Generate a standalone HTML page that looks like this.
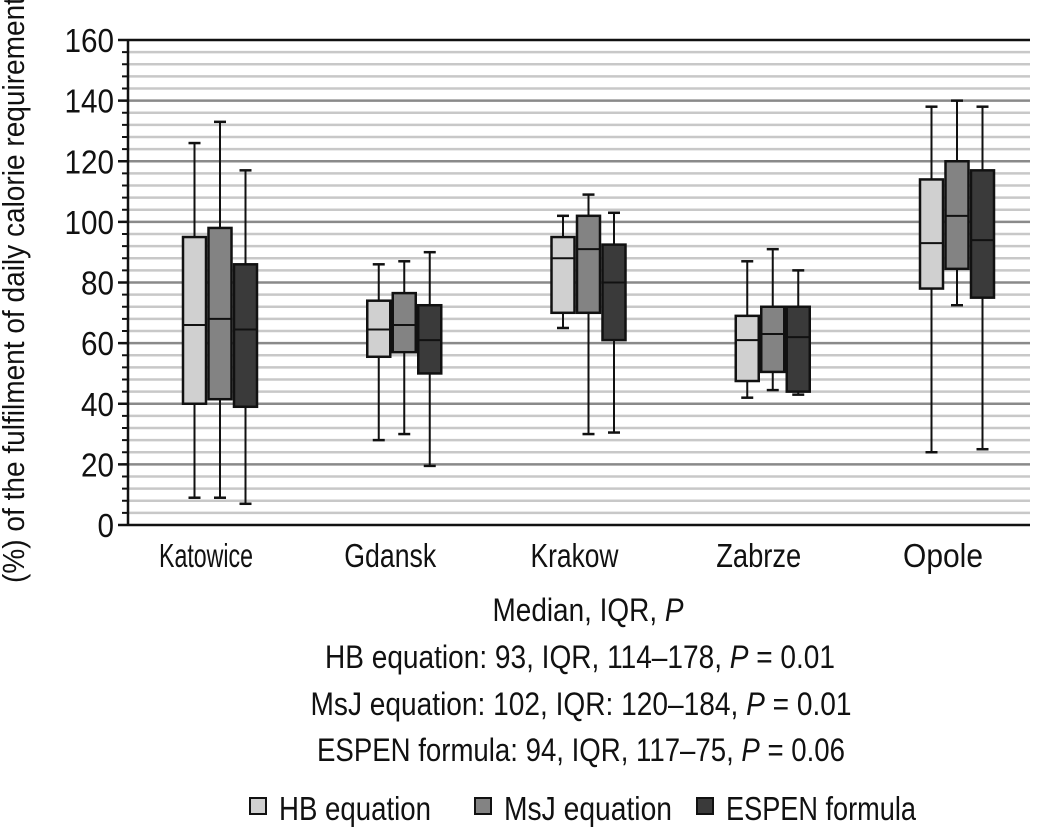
<!DOCTYPE html>
<html><head><meta charset="utf-8"><style>
body{margin:0;background:#fff}
svg{display:block}
text{font-family:"Liberation Sans Narrow","Liberation Sans",sans-serif;fill:#111}
</style></head><body>
<svg id="chart" width="1050" height="834" viewBox="0 0 1050 834">
<g id="grid"></g>
<g id="boxes"></g>
<g id="axes"></g>
<text x="24" y="283" transform="rotate(-90 24 283)" text-anchor="middle" font-size="31" textLength="600" lengthAdjust="spacingAndGlyphs">(%) of the fulfilment of daily calorie requirements</text>
<g font-size="32" text-anchor="middle">
<text x="588" y="621" textLength="191" lengthAdjust="spacingAndGlyphs">Median, IQR, <tspan font-style="italic">P</tspan></text>
<text x="580" y="668" textLength="510" lengthAdjust="spacingAndGlyphs">HB equation: 93, IQR, 114–178, <tspan font-style="italic">P</tspan> = 0.01</text>
<text x="581" y="715" textLength="541" lengthAdjust="spacingAndGlyphs">MsJ equation: 102, IQR: 120–184, <tspan font-style="italic">P</tspan> = 0.01</text>
<text x="581" y="761" textLength="528" lengthAdjust="spacingAndGlyphs">ESPEN formula: 94, IQR, 117–75, <tspan font-style="italic">P</tspan> = 0.06</text>
</g>
<g id="legend"></g>
</svg>
<script>
const categories=["Katowice","Gdansk","Krakow","Zabrze","Opole"];
const seriesNames=["HB equation","MsJ equation","ESPEN formula"];
const seriesColors=["#d0d0d0","#838383","#3a3a3a"];
const yTicks=[0,20,40,60,80,100,120,140,160];
// per series: [min,q1,median,q3,max] per category
const hbData=[[9,40,66,95,126],[28,55.5,64.5,74,86],[65,70,88,95,102],[42,47.5,61,69,87],[24,78,93,114,138]];
const msjData=[[9,41.5,68,98,133],[30,57,66,76.5,87],[30,70,91,102,109],[44.5,50.5,63,72,91],[72.5,84.5,102,120,140]];
const espenData=[[7,39,64.5,86,117],[19.5,50,61,72.5,90],[30.5,61,80,92.5,103],[43,44,62,72,84],[25,75,94,117,138]];
const allData=[hbData,msjData,espenData];
const NS="http://www.w3.org/2000/svg";
const L=128,R=1030,T=40,B=525;
const y=v=>B-(v/160)*(B-T);
const xc=i=>220+i*184.25;
const labelW=[94,92,88,85,80];
const legendW=[152,168,190];
const lx=[250,475,697];
function mk(tag,attrs,parent){const e=document.createElementNS(NS,tag);for(const k in attrs)e.setAttribute(k,attrs[k]);parent.appendChild(e);return e;}
const grid=document.getElementById('grid'),axes=document.getElementById('axes'),boxes=document.getElementById('boxes'),legend=document.getElementById('legend');
for(let v=4;v<160;v+=4){
  const major=v%20===0;
  const ln=mk('line',{x1:L,x2:R,y1:y(v),y2:y(v),stroke:major?'#8a8a8a':'#c8c8c8','stroke-width':2.5},grid);
  
  
  const tk=mk('line',{x1:L-6,x2:L,y1:y(v),y2:y(v),stroke:'#111','stroke-width':2},axes);
  
  
}
let e=mk('line',{x1:L,x2:L,y1:T,y2:B,stroke:'#111','stroke-width':2.5},axes);


e=mk('line',{x1:L,x2:R,y1:B,y2:B,stroke:'#111','stroke-width':2.5},axes);


e=mk('line',{x1:L,x2:R,y1:T,y2:T,stroke:'#111','stroke-width':2.5},axes);


yTicks.forEach(v=>{
  const t=mk('text',{x:L-14,y:y(v)+12,'text-anchor':'end','font-size':33,textLength:String(v).length*16.5,lengthAdjust:'spacingAndGlyphs'},axes);
  t.textContent=v;
  
  
  const tk=mk('line',{x1:L-10,x2:L,y1:y(v),y2:y(v),stroke:'#111','stroke-width':2.5},axes);
  
  
});
categories.forEach((c,i)=>{
  const t=mk('text',{x:xc(i)-14-labelW[i]/2,y:567,'font-size':33,textLength:labelW[i],lengthAdjust:'spacingAndGlyphs'},axes);
  t.textContent=c;
  
  
});
const bw=23,gap=25.5;
allData.forEach((ser,s)=>{
  ser.forEach((d,i)=>{
    const cx=xc(i)+(s-1)*gap;
    const g=mk('g',{},boxes);
    
    
    mk('line',{x1:cx,x2:cx,y1:y(d[0]),y2:y(d[4]),stroke:'#111','stroke-width':2},g);
    mk('line',{x1:cx-6,x2:cx+6,y1:y(d[0]),y2:y(d[0]),stroke:'#111','stroke-width':2.5},g);
    mk('line',{x1:cx-6,x2:cx+6,y1:y(d[4]),y2:y(d[4]),stroke:'#111','stroke-width':2.5},g);
    mk('rect',{x:cx-bw/2,y:y(d[3]),width:bw,height:y(d[1])-y(d[3]),fill:seriesColors[s],stroke:'#111','stroke-width':2.5},g);
    mk('line',{x1:cx-bw/2,x2:cx+bw/2,y1:y(d[2]),y2:y(d[2]),stroke:'#111','stroke-width':2},g);
  });
});
seriesNames.forEach((n,s)=>{
  const r=mk('rect',{x:lx[s],y:798,width:16,height:16,fill:seriesColors[s],stroke:'#111','stroke-width':2},legend);
  
  
  const t=mk('text',{x:lx[s]+29,y:820,'font-size':33,textLength:legendW[s],lengthAdjust:'spacingAndGlyphs'},legend);
  t.textContent=n;
  
  
});
</script>
</body></html>
